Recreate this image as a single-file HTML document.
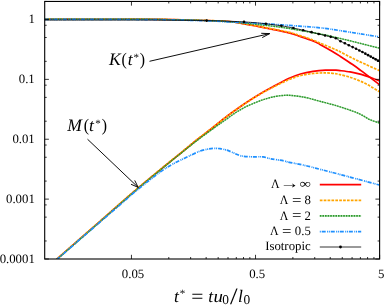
<!DOCTYPE html>
<html><head><meta charset="utf-8"><title>plot</title>
<style>html,body{margin:0;padding:0;background:#fff;}body{width:384px;height:305px;overflow:hidden;position:relative;font-family:"Liberation Serif",serif;}</style></head>
<body>
<svg width="384" height="305" viewBox="0 0 384 305" style="position:absolute;left:0;top:0">
<rect width="384" height="305" fill="#fff"/>
<defs><filter id="tf" filterUnits="userSpaceOnUse" x="0" y="0" width="384" height="305"><feOffset dx="0" dy="0"/></filter><clipPath id="c"><rect x="44.70" y="1.45" width="334.92" height="257.55"/></clipPath></defs>
<g clip-path="url(#c)" fill="none" stroke-linejoin="round">
<path d="M44.75 19.10 C53.96 19.10 85.79 19.08 100.00 19.10 C114.21 19.12 120.00 19.15 130.00 19.20 C140.00 19.25 147.17 19.18 160.00 19.40 C172.83 19.62 195.33 20.12 207.00 20.50 C218.67 20.88 223.83 21.13 230.00 21.70 C236.17 22.27 239.67 23.18 244.00 23.90 C248.33 24.62 248.67 24.55 256.00 26.00 C263.33 27.45 280.67 30.87 288.00 32.60 C295.33 34.33 295.83 35.02 300.00 36.40 C304.17 37.78 309.67 39.57 313.00 40.90 C316.33 42.23 316.83 42.68 320.00 44.40 C323.17 46.12 328.67 49.23 332.00 51.20 C335.33 53.17 336.50 53.93 340.00 56.20 C343.50 58.47 349.50 62.40 353.00 64.80 C356.50 67.20 358.50 68.75 361.00 70.60 C363.50 72.45 364.92 73.57 368.00 75.90 C371.08 78.23 377.58 83.15 379.50 84.60" stroke="#ff0000" stroke-width="1.7"/>
<path d="M56.60 259.35 C63.17 253.61 83.05 236.24 96.00 224.90 C108.95 213.56 122.30 201.55 134.30 191.30 C146.30 181.05 160.05 169.93 168.00 163.40 C175.95 156.87 177.25 155.97 182.00 152.10 C186.75 148.23 191.67 144.05 196.50 140.20 C201.33 136.35 206.08 132.87 211.00 129.00 C215.92 125.13 221.50 120.47 226.00 117.00 C230.50 113.53 233.83 111.12 238.00 108.20 C242.17 105.28 247.00 102.07 251.00 99.50 C255.00 96.93 258.50 94.83 262.00 92.80 C265.50 90.77 267.67 89.64 272.00 87.30 C276.33 84.96 283.25 80.97 288.00 78.75 C292.75 76.53 296.33 75.24 300.50 74.00 C304.67 72.76 308.83 71.95 313.00 71.30 C317.17 70.65 321.67 70.28 325.50 70.10 C329.33 69.92 333.58 70.12 336.00 70.20 C338.42 70.28 337.67 70.32 340.00 70.60 C342.33 70.88 347.00 71.40 350.00 71.90 C353.00 72.40 355.50 72.98 358.00 73.60 C360.50 74.22 362.67 74.87 365.00 75.60 C367.33 76.33 369.58 77.12 372.00 78.00 C374.42 78.88 378.25 80.42 379.50 80.90" stroke="#ff0000" stroke-width="1.7"/>
<path d="M44.75 19.05 C53.96 19.05 85.79 19.03 100.00 19.05 C114.21 19.07 120.00 19.10 130.00 19.15 C140.00 19.20 147.17 19.13 160.00 19.35 C172.83 19.57 195.33 20.07 207.00 20.45 C218.67 20.83 223.83 21.09 230.00 21.65 C236.17 22.21 239.67 23.09 244.00 23.80 C248.33 24.51 248.67 24.53 256.00 25.90 C263.33 27.27 280.67 30.38 288.00 32.00 C295.33 33.62 295.83 34.27 300.00 35.60 C304.17 36.93 309.67 38.77 313.00 40.00 C316.33 41.23 316.17 41.37 320.00 43.00 C323.83 44.63 332.67 48.35 336.00 49.80 C339.33 51.25 337.33 50.33 340.00 51.70 C342.67 53.07 347.83 55.93 352.00 58.00 C356.17 60.07 360.42 62.00 365.00 64.10 C369.58 66.20 377.08 69.52 379.50 70.60" stroke="#ffa500" stroke-width="1.7" stroke-dasharray="2.7 1.18"/>
<path d="M56.60 259.10 C63.17 253.36 83.05 235.99 96.00 224.65 C108.95 213.31 122.30 201.30 134.30 191.05 C146.30 180.80 160.05 169.68 168.00 163.15 C175.95 156.62 177.25 155.72 182.00 151.85 C186.75 147.98 191.67 143.78 196.50 139.95 C201.33 136.12 206.08 132.73 211.00 128.90 C215.92 125.08 221.50 120.43 226.00 117.00 C230.50 113.57 233.83 111.18 238.00 108.30 C242.17 105.42 247.00 102.23 251.00 99.70 C255.00 97.17 258.50 95.08 262.00 93.10 C265.50 91.12 267.67 89.98 272.00 87.80 C276.33 85.62 283.25 82.03 288.00 80.00 C292.75 77.97 296.33 76.68 300.50 75.60 C304.67 74.52 308.83 73.95 313.00 73.50 C317.17 73.05 321.67 72.86 325.50 72.90 C329.33 72.94 333.58 73.47 336.00 73.75 C338.42 74.03 337.67 74.02 340.00 74.60 C342.33 75.17 346.67 76.13 350.00 77.20 C353.33 78.27 356.67 79.53 360.00 81.00 C363.33 82.47 366.75 84.20 370.00 86.00 C373.25 87.80 377.92 90.83 379.50 91.80" stroke="#ffa500" stroke-width="1.7" stroke-dasharray="2.7 1.18"/>
<path d="M44.75 19.15 C53.96 19.15 85.79 19.13 100.00 19.15 C114.21 19.17 120.00 19.20 130.00 19.25 C140.00 19.30 147.17 19.23 160.00 19.45 C172.83 19.67 195.33 20.17 207.00 20.55 C218.67 20.93 223.83 21.32 230.00 21.75 C236.17 22.18 239.67 22.68 244.00 23.10 C248.33 23.53 251.33 23.80 256.00 24.30 C260.67 24.80 266.67 25.43 272.00 26.10 C277.33 26.77 280.00 26.98 288.00 28.30 C296.00 29.62 311.33 32.32 320.00 34.00 C328.67 35.68 333.33 36.85 340.00 38.40 C346.67 39.95 353.42 41.67 360.00 43.30 C366.58 44.93 376.25 47.38 379.50 48.20" stroke="#2b9a2b" stroke-width="1.3" stroke-opacity="0.4"/>
<path d="M56.60 259.70 C63.17 253.96 83.05 236.59 96.00 225.25 C108.95 213.91 122.30 201.90 134.30 191.65 C146.30 181.40 160.05 170.28 168.00 163.75 C175.95 157.22 177.25 156.26 182.00 152.45 C186.75 148.64 191.00 145.09 196.50 140.90 C202.00 136.71 210.08 130.87 215.00 127.30 C219.92 123.73 222.53 121.97 226.00 119.50 C229.47 117.03 232.63 114.55 235.80 112.50 C238.97 110.45 241.70 108.87 245.00 107.20 C248.30 105.53 252.27 103.85 255.60 102.50 C258.93 101.15 261.70 100.12 265.00 99.10 C268.30 98.08 272.07 97.03 275.40 96.40 C278.73 95.77 282.23 95.45 285.00 95.30 C287.77 95.15 289.50 95.30 292.00 95.50 C294.50 95.70 297.23 96.05 300.00 96.50 C302.77 96.95 305.27 97.40 308.60 98.20 C311.93 99.00 315.32 100.03 320.00 101.30 C324.68 102.57 331.15 104.13 336.70 105.80 C342.25 107.47 349.13 109.77 353.30 111.30 C357.47 112.83 358.92 113.60 361.70 115.00 C364.48 116.40 367.03 118.37 370.00 119.70 C372.97 121.03 377.92 122.45 379.50 123.00" stroke="#2b9a2b" stroke-width="1.3" stroke-opacity="0.4"/>
<path d="M44.75 19.15 C53.96 19.15 85.79 19.13 100.00 19.15 C114.21 19.17 120.00 19.20 130.00 19.25 C140.00 19.30 147.17 19.23 160.00 19.45 C172.83 19.67 195.33 20.17 207.00 20.55 C218.67 20.93 223.83 21.32 230.00 21.75 C236.17 22.18 239.67 22.68 244.00 23.10 C248.33 23.53 251.33 23.80 256.00 24.30 C260.67 24.80 266.67 25.43 272.00 26.10 C277.33 26.77 280.00 26.98 288.00 28.30 C296.00 29.62 311.33 32.32 320.00 34.00 C328.67 35.68 333.33 36.85 340.00 38.40 C346.67 39.95 353.42 41.67 360.00 43.30 C366.58 44.93 376.25 47.38 379.50 48.20" stroke="#2b9a2b" stroke-width="1.4" stroke-dasharray="1.65 0.95"/>
<path d="M56.60 259.70 C63.17 253.96 83.05 236.59 96.00 225.25 C108.95 213.91 122.30 201.90 134.30 191.65 C146.30 181.40 160.05 170.28 168.00 163.75 C175.95 157.22 177.25 156.26 182.00 152.45 C186.75 148.64 191.00 145.09 196.50 140.90 C202.00 136.71 210.08 130.87 215.00 127.30 C219.92 123.73 222.53 121.97 226.00 119.50 C229.47 117.03 232.63 114.55 235.80 112.50 C238.97 110.45 241.70 108.87 245.00 107.20 C248.30 105.53 252.27 103.85 255.60 102.50 C258.93 101.15 261.70 100.12 265.00 99.10 C268.30 98.08 272.07 97.03 275.40 96.40 C278.73 95.77 282.23 95.45 285.00 95.30 C287.77 95.15 289.50 95.30 292.00 95.50 C294.50 95.70 297.23 96.05 300.00 96.50 C302.77 96.95 305.27 97.40 308.60 98.20 C311.93 99.00 315.32 100.03 320.00 101.30 C324.68 102.57 331.15 104.13 336.70 105.80 C342.25 107.47 349.13 109.77 353.30 111.30 C357.47 112.83 358.92 113.60 361.70 115.00 C364.48 116.40 367.03 118.37 370.00 119.70 C372.97 121.03 377.92 122.45 379.50 123.00" stroke="#2b9a2b" stroke-width="1.4" stroke-dasharray="1.65 0.95"/>
<path d="M44.75 19.40 C53.96 19.40 85.79 19.38 100.00 19.40 C114.21 19.42 120.00 19.45 130.00 19.50 C140.00 19.55 147.17 19.48 160.00 19.70 C172.83 19.92 195.33 20.42 207.00 20.80 C218.67 21.18 223.83 21.70 230.00 22.00 C236.17 22.30 239.67 22.40 244.00 22.60 C248.33 22.80 248.67 22.75 256.00 23.20 C263.33 23.65 277.33 24.53 288.00 25.30 C298.67 26.07 311.33 26.92 320.00 27.80 C328.67 28.68 333.33 29.60 340.00 30.60 C346.67 31.60 353.42 32.75 360.00 33.80 C366.58 34.85 376.25 36.38 379.50 36.90" stroke="#1e90ff" stroke-width="1.7" stroke-dasharray="4.0 1.4 1.0 0.75 1.0 0.9"/>
<path d="M56.60 259.70 C63.17 254.00 85.43 234.63 96.00 225.50 C106.57 216.37 113.62 210.42 120.00 204.90 C126.38 199.38 129.30 196.58 134.30 192.40 C139.30 188.22 145.58 183.27 150.00 179.80 C154.42 176.33 157.40 174.00 160.80 171.60 C164.20 169.20 167.07 167.33 170.40 165.40 C173.73 163.47 177.33 161.73 180.80 160.00 C184.28 158.27 188.05 156.48 191.25 155.00 C194.45 153.52 197.38 152.05 200.00 151.10 C202.62 150.15 204.83 149.76 207.00 149.30 C209.17 148.84 210.83 148.45 213.00 148.35 C215.17 148.25 217.83 148.44 220.00 148.70 C222.17 148.96 224.00 149.32 226.00 149.90 C228.00 150.48 229.92 151.35 232.00 152.20 C234.08 153.05 236.50 154.30 238.50 155.00 C240.50 155.70 241.58 156.10 244.00 156.40 C246.42 156.70 249.83 156.72 253.00 156.80 C256.17 156.88 260.00 156.57 263.00 156.90 C266.00 157.23 267.50 158.13 271.00 158.80 C274.50 159.47 280.95 160.32 284.00 160.90 C287.05 161.48 285.63 161.50 289.30 162.30 C292.97 163.10 300.43 164.42 306.00 165.70 C311.57 166.98 317.15 168.57 322.70 170.00 C328.25 171.43 333.75 172.85 339.30 174.30 C344.85 175.75 349.33 176.92 356.00 178.70 C362.67 180.48 375.42 183.95 379.30 185.00" stroke="#1e90ff" stroke-width="1.7" stroke-dasharray="4.0 1.4 1.0 0.75 1.0 0.9"/>
<path d="M44.75 20.10 C53.96 20.10 85.79 20.10 100.00 20.10 C114.21 20.10 120.00 20.10 130.00 20.10 C140.00 20.10 147.17 20.02 160.00 20.10 C172.83 20.18 195.33 20.40 207.00 20.60 C218.67 20.80 223.83 21.08 230.00 21.30 C236.17 21.52 239.67 21.65 244.00 21.90 C248.33 22.15 252.38 22.48 256.00 22.80 C259.62 23.12 261.48 23.30 265.70 23.80 C269.92 24.30 276.75 25.10 281.30 25.80 C285.85 26.50 289.05 27.20 293.00 28.00 C296.95 28.80 300.50 29.55 305.00 30.60 C309.50 31.65 314.83 33.02 320.00 34.30 C325.17 35.58 332.67 37.20 336.00 38.30 C339.33 39.40 336.00 38.82 340.00 40.90 C344.00 42.98 353.42 47.37 360.00 50.80 C366.58 54.23 376.25 59.72 379.50 61.50" stroke="#000" stroke-width="0.8"/>
<circle cx="206.65" cy="20.59" r="1.3" fill="#000" stroke="none"/>
<circle cx="244.00" cy="21.90" r="1.3" fill="#000" stroke="none"/>
<circle cx="265.85" cy="23.82" r="1.3" fill="#000" stroke="none"/>
<circle cx="281.36" cy="25.81" r="1.3" fill="#000" stroke="none"/>
<circle cx="293.38" cy="28.07" r="1.3" fill="#000" stroke="none"/>
<circle cx="303.21" cy="30.19" r="1.3" fill="#000" stroke="none"/>
<circle cx="311.52" cy="32.17" r="1.3" fill="#000" stroke="none"/>
<circle cx="318.71" cy="33.97" r="1.3" fill="#000" stroke="none"/>
<circle cx="325.06" cy="35.52" r="1.3" fill="#000" stroke="none"/>
<circle cx="330.74" cy="36.87" r="1.3" fill="#000" stroke="none"/>
<circle cx="335.88" cy="38.27" r="1.3" fill="#000" stroke="none"/>
<circle cx="340.56" cy="41.19" r="1.3" fill="#000" stroke="none"/>
<circle cx="344.88" cy="43.31" r="1.3" fill="#000" stroke="none"/>
<circle cx="348.87" cy="45.29" r="1.3" fill="#000" stroke="none"/>
<circle cx="352.59" cy="47.10" r="1.3" fill="#000" stroke="none"/>
<circle cx="356.07" cy="48.82" r="1.3" fill="#000" stroke="none"/>
<circle cx="359.34" cy="50.44" r="1.3" fill="#000" stroke="none"/>
<circle cx="362.42" cy="52.06" r="1.3" fill="#000" stroke="none"/>
<circle cx="365.33" cy="53.67" r="1.3" fill="#000" stroke="none"/>
<circle cx="368.09" cy="55.16" r="1.3" fill="#000" stroke="none"/>
<circle cx="370.72" cy="56.59" r="1.3" fill="#000" stroke="none"/>
<circle cx="373.23" cy="58.01" r="1.3" fill="#000" stroke="none"/>
<circle cx="375.63" cy="59.36" r="1.3" fill="#000" stroke="none"/>
<circle cx="377.92" cy="60.63" r="1.3" fill="#000" stroke="none"/>
<circle cx="380.12" cy="61.50" r="1.3" fill="#000" stroke="none"/>
</g>
<g stroke="#000" stroke-width="0.8" fill="none">
<path d="M131.44 259.00v-4.20 M131.44 1.45v4.20"/>
<path d="M255.53 259.00v-4.20 M255.53 1.45v4.20"/>
<path d="M379.62 259.00v-4.20 M379.62 1.45v4.20"/>
<path d="M168.79 259.00v-2.00 M168.79 1.45v2.00"/>
<path d="M190.64 259.00v-2.00 M190.64 1.45v2.00"/>
<path d="M206.15 259.00v-2.00 M206.15 1.45v2.00"/>
<path d="M218.17 259.00v-2.00 M218.17 1.45v2.00"/>
<path d="M228.00 259.00v-2.00 M228.00 1.45v2.00"/>
<path d="M236.31 259.00v-2.00 M236.31 1.45v2.00"/>
<path d="M243.50 259.00v-2.00 M243.50 1.45v2.00"/>
<path d="M249.85 259.00v-2.00 M249.85 1.45v2.00"/>
<path d="M292.88 259.00v-2.00 M292.88 1.45v2.00"/>
<path d="M314.74 259.00v-2.00 M314.74 1.45v2.00"/>
<path d="M330.24 259.00v-2.00 M330.24 1.45v2.00"/>
<path d="M342.26 259.00v-2.00 M342.26 1.45v2.00"/>
<path d="M352.09 259.00v-2.00 M352.09 1.45v2.00"/>
<path d="M360.40 259.00v-2.00 M360.40 1.45v2.00"/>
<path d="M367.59 259.00v-2.00 M367.59 1.45v2.00"/>
<path d="M373.94 259.00v-2.00 M373.94 1.45v2.00"/>
<path d="M44.70 259.00h4.20 M379.62 259.00h-4.20"/>
<path d="M44.70 240.97h2.00 M379.62 240.97h-2.00"/>
<path d="M44.70 217.14h2.00 M379.62 217.14h-2.00"/>
<path d="M44.70 204.92h2.00 M379.62 204.92h-2.00"/>
<path d="M44.70 199.12h4.20 M379.62 199.12h-4.20"/>
<path d="M44.70 181.09h2.00 M379.62 181.09h-2.00"/>
<path d="M44.70 157.26h2.00 M379.62 157.26h-2.00"/>
<path d="M44.70 145.04h2.00 M379.62 145.04h-2.00"/>
<path d="M44.70 139.24h4.20 M379.62 139.24h-4.20"/>
<path d="M44.70 121.21h2.00 M379.62 121.21h-2.00"/>
<path d="M44.70 97.38h2.00 M379.62 97.38h-2.00"/>
<path d="M44.70 85.16h2.00 M379.62 85.16h-2.00"/>
<path d="M44.70 79.36h4.20 M379.62 79.36h-4.20"/>
<path d="M44.70 61.33h2.00 M379.62 61.33h-2.00"/>
<path d="M44.70 37.50h2.00 M379.62 37.50h-2.00"/>
<path d="M44.70 25.28h2.00 M379.62 25.28h-2.00"/>
<path d="M44.70 19.48h4.20 M379.62 19.48h-4.20"/>
<path d="M44.70 1.45h2.00 M379.62 1.45h-2.00"/>
</g>
<rect x="44.70" y="1.45" width="334.92" height="257.55" fill="none" stroke="#000" stroke-width="1.1"/>
<g stroke="#000" stroke-width="0.95" fill="none" stroke-linecap="butt" stroke-linejoin="miter">
<path d="M149.50 61.30L269.70 33.60"/>
<path d="M269.70 33.60L262.19 37.59"/>
<path d="M269.70 33.60L261.21 33.30"/>
<path d="M87.50 139.20L138.20 187.40"/>
<path d="M138.20 187.40L131.05 184.28"/>
<path d="M138.20 187.40L134.73 180.42"/>
</g>
<g fill="none">
<path d="M319.8 184.7H361.2" stroke="#ff0000" stroke-width="1.7"/>
<path d="M319.8 200.3H361.2" stroke="#ffa500" stroke-width="1.7" stroke-dasharray="2.7 1.18"/>
<path d="M319.8 215.9H361.2" stroke="#2b9a2b" stroke-width="1.5" stroke-opacity="0.3"/>
<path d="M319.8 215.9H361.2" stroke="#2b9a2b" stroke-width="1.7" stroke-dasharray="1.65 0.95"/>
<path d="M319.8 231.6H361.2" stroke="#1e90ff" stroke-width="1.7" stroke-dasharray="4.0 1.4 1.0 0.75 1.0 0.9" stroke-dashoffset="7.15"/>
<path d="M319.8 247.0H361.2" stroke="#000" stroke-width="0.8"/>
<circle cx="340.50" cy="247.0" r="1.4" fill="#000"/>
</g>
<g font-family="Liberation Serif, serif" fill="#000" text-rendering="geometricPrecision" filter="url(#tf)">
<text x="28.38" y="23.08" font-size="12.80">1</text>
<text x="18.75" y="82.96" font-size="12.80">0.1</text>
<text x="12.38" y="142.84" font-size="12.80">0.01</text>
<text x="6.00" y="202.72" font-size="12.80">0.001</text>
<text x="-0.38" y="262.60" font-size="12.80">0.0001</text>
<text x="121.85" y="277.60" font-size="12.80">0.05</text>
<text x="249.13" y="277.60" font-size="12.80">0.5</text>
<text x="377.91" y="277.60" font-size="12.80">5</text>
<text transform="translate(270.98 188.00) scale(0.930 1)" font-size="12.80">Λ</text>
<text transform="translate(279.69 188.30) scale(1.330 1)" font-size="14.72">→</text>
<text transform="translate(299.38 188.20) scale(1.250 1)" font-size="12.80">∞</text>
<text transform="translate(279.78 203.90) scale(0.930 1)" font-size="12.80">Λ</text>
<text transform="translate(291.98 204.65) scale(1.150 1)" font-size="14.60">=</text>
<text x="304.43" y="203.90" font-size="12.80">8</text>
<text transform="translate(279.78 219.60) scale(0.930 1)" font-size="12.80">Λ</text>
<text transform="translate(291.98 220.35) scale(1.150 1)" font-size="14.60">=</text>
<text x="304.55" y="219.60" font-size="12.80">2</text>
<text transform="translate(270.08 235.30) scale(0.930 1)" font-size="12.80">Λ</text>
<text transform="translate(281.98 236.05) scale(1.150 1)" font-size="14.60">=</text>
<text x="294.80" y="235.30" font-size="12.80">0.5</text>
<text x="265.18" y="250.40" font-size="12.80">Isotropic</text>
<text x="108.95" y="64.70" font-size="17.60" font-style="italic">K</text>
<text transform="translate(121.50 64.70) scale(0.900 1)" font-size="17.60">(</text>
<text x="127.85" y="64.70" font-size="17.60" font-style="italic">t</text>
<text x="133.46" y="60.90" font-size="11.00">*</text>
<text transform="translate(139.71 64.70) scale(0.900 1)" font-size="17.60">)</text>
<text x="67.25" y="130.80" font-size="17.60" font-style="italic">M</text>
<text transform="translate(83.70 130.80) scale(0.900 1)" font-size="17.60">(</text>
<text x="88.90" y="130.80" font-size="17.60" font-style="italic">t</text>
<text x="95.36" y="127.00" font-size="11.00">*</text>
<text transform="translate(101.71 130.80) scale(0.900 1)" font-size="17.60">)</text>
<text x="173.90" y="301.50" font-size="17.60" font-style="italic">t</text>
<text x="179.76" y="297.00" font-size="11.00">*</text>
<text transform="translate(191.25 303.20) scale(1.080 1)" font-size="20.00">=</text>
<text x="208.30" y="301.50" font-size="17.60" font-style="italic">t</text>
<text transform="translate(213.46 301.50) scale(1.070 1)" font-size="17.60" font-style="italic">u</text>
<text x="222.26" y="304.10" font-size="13.40">0</text>
<text transform="translate(230.00 304.05) scale(1.170 1)" font-size="23.40">/</text>
<text x="237.90" y="301.50" font-size="17.60" font-style="italic">l</text>
<text x="243.41" y="304.10" font-size="13.40">0</text>
</g>
</svg>
</body></html>
